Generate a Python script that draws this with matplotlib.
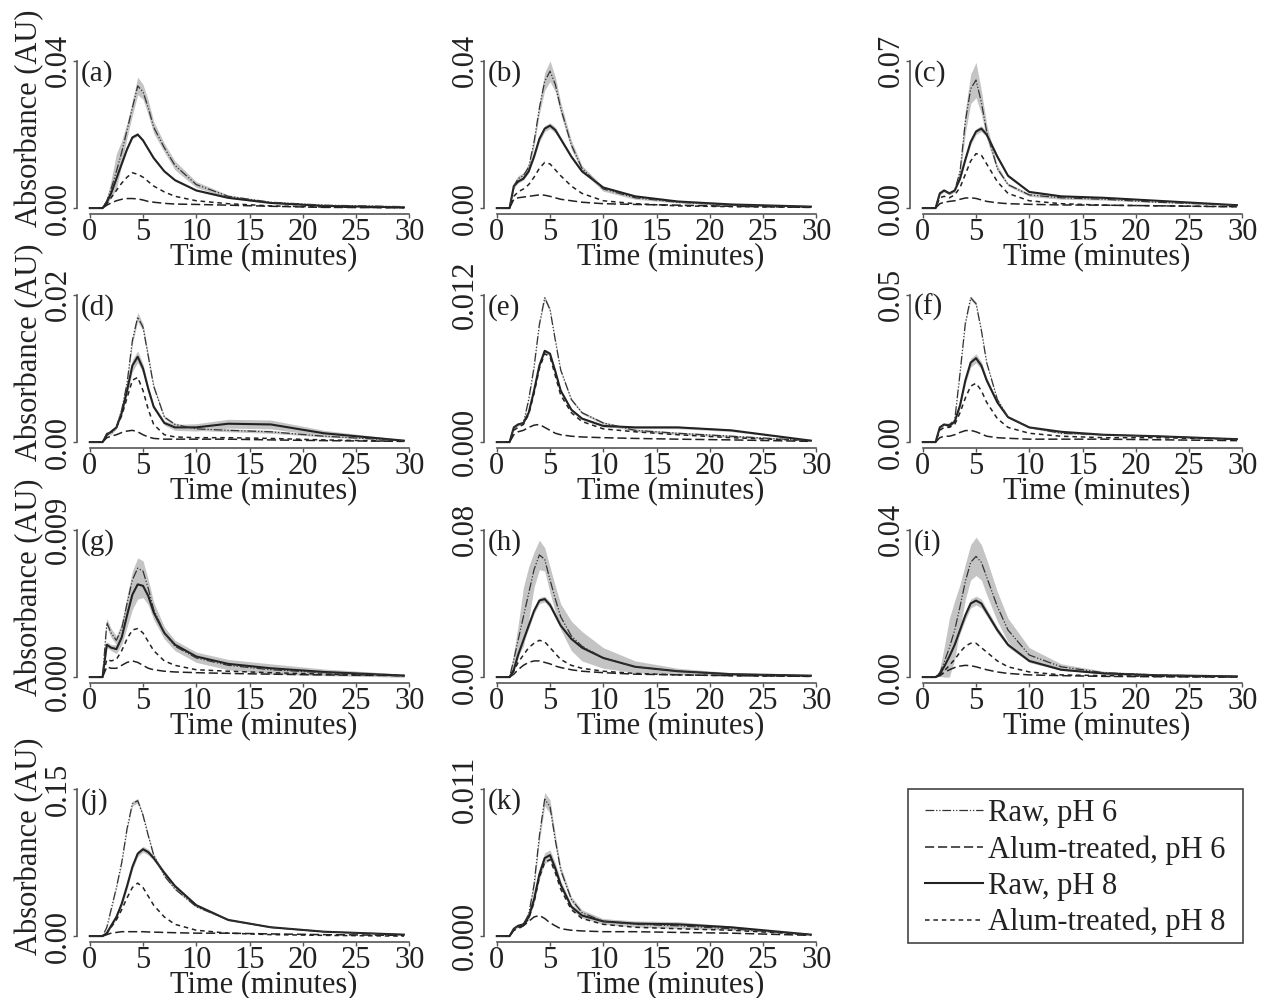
import matplotlib
matplotlib.use("Agg")
import matplotlib.pyplot as plt
import numpy as np
from matplotlib.lines import Line2D
from matplotlib.patches import Rectangle

plt.rcParams['font.family'] = ['Liberation Serif', 'DejaVu Serif']

# time grid (minutes) shared by every series
time = [0, 1.2, 1.6, 2, 2.5, 3, 3.5, 4, 4.5, 5, 5.5, 6, 7, 8, 10, 13, 17, 22, 29.5]

# (a)
a_raw6 = [0, 0, 0.002, 0.0052, 0.01, 0.0152, 0.0212, 0.0272, 0.0332, 0.0316, 0.0272, 0.022, 0.0164, 0.0116, 0.0064, 0.0032, 0.0016, 0.0008, 0.0004]
a_alum6 = [0, 0, 0.0008, 0.0014, 0.002, 0.0024, 0.0026, 0.0026, 0.0025, 0.0022, 0.0018, 0.0016, 0.0013, 0.0011, 0.001, 0.0008, 0.0005, 0.0002, 0.0001]
a_raw8 = [0, 0, 0.0016, 0.004, 0.008, 0.012, 0.016, 0.0192, 0.02, 0.0184, 0.016, 0.0136, 0.01, 0.0076, 0.0048, 0.0028, 0.0014, 0.0006, 0.0002]
a_alum8 = [0, 0, 0.0012, 0.0028, 0.0048, 0.0068, 0.0084, 0.0096, 0.0092, 0.0084, 0.0072, 0.006, 0.0044, 0.0032, 0.002, 0.0012, 0.0006, 0.0003, 0.0001]
a_sd6 = [0, 0, 0.0008, 0.0024, 0.0048, 0.0032, 0.002, 0.002, 0.0024, 0.002, 0.002, 0.0016, 0.0012, 0.0012, 0.0008, 0.0004, 0.0002, 0.0001, 0.0001]
a_sd8 = [0, 0, 0.0002, 0.0003, 0.0004, 0.0004, 0.0004, 0.0004, 0.0004, 0.0004, 0.0004, 0.0004, 0.0003, 0.0003, 0.0002, 0.0002, 0.0001, 0.0001, 0]

# (b)
b_raw6 = [0, 0, 0.006, 0.008, 0.0088, 0.0112, 0.018, 0.0272, 0.0344, 0.0372, 0.0336, 0.0272, 0.0172, 0.0108, 0.0052, 0.0028, 0.0016, 0.0008, 0.0004]
b_alum6 = [0, 0, 0.0024, 0.0028, 0.003, 0.0032, 0.0034, 0.0036, 0.0035, 0.0032, 0.0028, 0.0024, 0.002, 0.0016, 0.0012, 0.001, 0.0008, 0.0005, 0.0002]
b_raw8 = [0, 0, 0.006, 0.0072, 0.008, 0.01, 0.014, 0.0188, 0.0216, 0.0224, 0.0212, 0.0188, 0.014, 0.01, 0.0056, 0.0032, 0.0018, 0.001, 0.0004]
b_alum8 = [0, 0, 0.0032, 0.0044, 0.0052, 0.0064, 0.0084, 0.0108, 0.0124, 0.012, 0.0104, 0.0088, 0.006, 0.004, 0.002, 0.0012, 0.0006, 0.0004, 0.0002]
b_sd6 = [0, 0, 0.0008, 0.0008, 0.0008, 0.0008, 0.0012, 0.0016, 0.0024, 0.0028, 0.002, 0.0016, 0.0012, 0.0008, 0.0006, 0.0004, 0.0002, 0.0001, 0.0001]
b_sd8 = [0, 0, 0.0004, 0.0004, 0.0004, 0.0004, 0.0006, 0.0008, 0.0008, 0.0008, 0.0008, 0.0006, 0.0005, 0.0004, 0.0003, 0.0002, 0.0001, 0.0001, 0]

# (c)
c_raw6 = [0, 0, 0.007, 0.0084, 0.007, 0.0084, 0.0175, 0.0413, 0.0567, 0.0609, 0.0504, 0.0364, 0.0189, 0.0112, 0.0063, 0.0049, 0.0042, 0.0028, 0.0014]
c_alum6 = [0, 0, 0.0021, 0.0028, 0.0032, 0.0035, 0.0042, 0.0048, 0.0049, 0.0046, 0.0039, 0.0032, 0.0025, 0.0021, 0.0018, 0.0015, 0.0014, 0.0011, 0.0006]
c_raw8 = [0, 0, 0.007, 0.0084, 0.007, 0.0084, 0.014, 0.0231, 0.0315, 0.0364, 0.0378, 0.035, 0.0245, 0.0154, 0.0077, 0.0056, 0.0049, 0.0035, 0.0014]
c_alum8 = [0, 0, 0.0049, 0.0056, 0.0049, 0.0063, 0.0098, 0.0161, 0.0224, 0.0259, 0.0252, 0.021, 0.0126, 0.007, 0.0035, 0.0021, 0.0014, 0.0011, 0.0007]
c_sd6 = [0, 0, 0.0007, 0.0007, 0.0007, 0.0007, 0.0021, 0.0056, 0.007, 0.0084, 0.0056, 0.0035, 0.0014, 0.0007, 0.0007, 0.0007, 0.0004, 0.0002, 0.0001]
c_sd8 = [0, 0, 0.0004, 0.0004, 0.0004, 0.0004, 0.0007, 0.001, 0.0014, 0.0014, 0.0014, 0.0012, 0.001, 0.0007, 0.0005, 0.0004, 0.0003, 0.0002, 0.0001]

# (d)
d_raw6 = [0, 0, 0.0012, 0.0012, 0.002, 0.0044, 0.008, 0.0138, 0.017, 0.0156, 0.0116, 0.0076, 0.0034, 0.0024, 0.0018, 0.0016, 0.0014, 0.0008, 0.0002]
d_alum6 = [0, 0, 0.0006, 0.0008, 0.001, 0.0013, 0.0015, 0.0016, 0.0014, 0.001, 0.0007, 0.0005, 0.0004, 0.0004, 0.0004, 0.0004, 0.0003, 0.0002, 0.0001]
d_raw8 = [0, 0, 0.001, 0.0014, 0.002, 0.004, 0.007, 0.0104, 0.0116, 0.01, 0.0072, 0.0048, 0.0026, 0.002, 0.002, 0.0025, 0.0024, 0.0012, 0.0002]
d_alum8 = [0, 0, 0.001, 0.0014, 0.002, 0.0036, 0.006, 0.0084, 0.0088, 0.007, 0.0044, 0.0024, 0.001, 0.0007, 0.0006, 0.0006, 0.0005, 0.0003, 0.0001]
d_sd6 = [0, 0, 0.0002, 0.0002, 0.0002, 0.0003, 0.0004, 0.0005, 0.0006, 0.0005, 0.0004, 0.0003, 0.0002, 0.0002, 0.0002, 0.0002, 0.0002, 0.0001, 0]
d_sd8 = [0, 0, 0.0002, 0.0002, 0.0002, 0.0004, 0.0006, 0.0008, 0.0008, 0.0006, 0.0004, 0.0003, 0.0003, 0.0004, 0.0005, 0.0006, 0.0006, 0.0004, 0.0001]

# (e)
e_raw6 = [0, 0, 0.0012, 0.00144, 0.00156, 0.00348, 0.00612, 0.0096, 0.01176, 0.0108, 0.00828, 0.00588, 0.00348, 0.0024, 0.00156, 0.00096, 0.00072, 0.00048, 0.00012]
e_alum6 = [0, 0, 0.0006, 0.00084, 0.00096, 0.0012, 0.00138, 0.00144, 0.0012, 0.00096, 0.00072, 0.0006, 0.00048, 0.00042, 0.00036, 0.0003, 0.00024, 0.00018, 0.00006]
e_raw8 = [0, 0, 0.0012, 0.00144, 0.00156, 0.0024, 0.0042, 0.00624, 0.00744, 0.0072, 0.00576, 0.0042, 0.00264, 0.00192, 0.00132, 0.0012, 0.0012, 0.00096, 0.00012]
e_alum8 = [0, 0, 0.00096, 0.0012, 0.00144, 0.00228, 0.00396, 0.006, 0.0072, 0.00696, 0.0054, 0.00384, 0.0024, 0.00168, 0.00108, 0.00084, 0.0006, 0.00036, 0.00012]
e_sd6 = [0, 0, 0.0001, 0.0001, 0.0001, 0.0001, 0.00012, 0.00015, 0.00015, 0.00015, 0.00012, 0.0001, 0.0001, 0.0001, 0.0001, 0.0001, 0.0001, 0.0001, 0]
e_sd8 = [0, 0, 0.0001, 0.0001, 0.0001, 0.0001, 0.00012, 0.00015, 0.00015, 0.00015, 0.00012, 0.0001, 0.0001, 0.0001, 0.0001, 0.0001, 0.0001, 0.0001, 0]

# (f)
f_raw6 = [0, 0, 0.005, 0.006, 0.006, 0.0075, 0.0235, 0.0405, 0.049, 0.047, 0.038, 0.027, 0.0145, 0.0085, 0.005, 0.003, 0.0025, 0.002, 0.001]
f_alum6 = [0, 0, 0.0015, 0.002, 0.002, 0.0025, 0.0033, 0.0039, 0.004, 0.0035, 0.0028, 0.002, 0.0015, 0.0013, 0.001, 0.001, 0.001, 0.0008, 0.0005]
f_raw8 = [0, 0, 0.005, 0.006, 0.0055, 0.007, 0.0125, 0.021, 0.027, 0.0285, 0.026, 0.021, 0.0135, 0.0085, 0.005, 0.0035, 0.0025, 0.002, 0.001]
f_alum8 = [0, 0, 0.004, 0.005, 0.005, 0.006, 0.01, 0.015, 0.019, 0.02, 0.0175, 0.0135, 0.008, 0.005, 0.003, 0.002, 0.0015, 0.0015, 0.001]
f_sd6 = [0, 0, 0.0003, 0.0003, 0.0003, 0.0003, 0.0005, 0.0006, 0.0006, 0.0006, 0.0005, 0.0004, 0.0003, 0.0003, 0.0002, 0.0002, 0.0002, 0.0001, 0]
f_sd8 = [0, 0, 0.0003, 0.0003, 0.0003, 0.0004, 0.0008, 0.0012, 0.0015, 0.0015, 0.0013, 0.001, 0.0006, 0.0004, 0.0003, 0.0002, 0.0002, 0.0001, 0]

# (g)
g_raw6 = [0, 0, 0.00333, 0.0027, 0.00225, 0.00297, 0.0045, 0.00594, 0.00666, 0.00648, 0.0054, 0.00414, 0.0027, 0.00189, 0.00117, 0.00072, 0.00045, 0.00027, 0.00009]
g_alum6 = [0, 0, 0.00063, 0.00054, 0.00054, 0.00072, 0.0009, 0.00099, 0.0009, 0.00072, 0.00054, 0.00045, 0.00036, 0.000315, 0.00027, 0.000225, 0.00018, 0.000135, 0.00009]
g_raw8 = [0, 0, 0.00198, 0.0018, 0.00171, 0.00243, 0.00378, 0.00504, 0.00567, 0.00558, 0.00495, 0.00396, 0.0027, 0.00198, 0.00126, 0.00081, 0.00054, 0.000315, 0.00009]
g_alum8 = [0, 0, 0.00108, 0.00099, 0.00108, 0.00162, 0.00234, 0.00288, 0.00297, 0.0027, 0.00216, 0.00162, 0.00099, 0.00072, 0.00045, 0.00036, 0.00027, 0.00018, 0.00009]
g_sd6 = [0, 0, 0.00027, 0.00027, 0.00027, 0.00036, 0.00045, 0.00054, 0.00063, 0.00063, 0.00054, 0.00045, 0.00036, 0.00027, 0.00027, 0.00027, 0.00027, 0.00018, 0.00009]
g_sd8 = [0, 0, 0.00018, 0.00018, 0.00027, 0.00045, 0.00072, 0.0009, 0.0009, 0.00072, 0.00054, 0.00045, 0.00036, 0.00027, 0.00027, 0.00027, 0.00027, 0.00018, 0.00009]

# (h)
h_raw6 = [0, 0, 0.0096, 0.02, 0.0328, 0.0456, 0.0584, 0.0664, 0.064, 0.0528, 0.0424, 0.0328, 0.0224, 0.0168, 0.0104, 0.0056, 0.0032, 0.0016, 0.0008]
h_alum6 = [0, 0, 0.0016, 0.004, 0.0064, 0.008, 0.0088, 0.0088, 0.008, 0.0072, 0.006, 0.0052, 0.004, 0.0032, 0.0024, 0.0016, 0.0012, 0.0008, 0.0004]
h_raw8 = [0, 0, 0.004, 0.012, 0.02, 0.028, 0.036, 0.0416, 0.0424, 0.0392, 0.0336, 0.028, 0.0208, 0.016, 0.0104, 0.0056, 0.0032, 0.0016, 0.0008]
h_alum8 = [0, 0, 0.0032, 0.008, 0.012, 0.016, 0.0184, 0.02, 0.0192, 0.016, 0.0128, 0.0096, 0.0064, 0.0048, 0.0032, 0.002, 0.0012, 0.0008, 0.0004]
h_sd6 = [0, 0, 0.004, 0.008, 0.016, 0.0144, 0.0096, 0.008, 0.0064, 0.007, 0.007, 0.007, 0.008, 0.008, 0.0056, 0.0032, 0.0016, 0.0008, 0.0004]
h_sd8 = [0, 0, 0.0008, 0.0016, 0.0016, 0.0016, 0.0016, 0.0016, 0.0016, 0.0016, 0.0016, 0.0016, 0.0016, 0.0016, 0.0012, 0.0008, 0.0004, 0.0002, 0]

# (i)
i_raw6 = [0, 0, 0.0012, 0.004, 0.008, 0.0128, 0.0192, 0.026, 0.0312, 0.0328, 0.0312, 0.0272, 0.0192, 0.0128, 0.006, 0.0028, 0.0012, 0.0006, 0.0002]
i_alum6 = [0, 0, 0.0004, 0.0012, 0.002, 0.0026, 0.003, 0.0032, 0.0031, 0.0028, 0.0024, 0.002, 0.0014, 0.001, 0.0006, 0.0004, 0.0002, 0.0001, 0]
i_raw8 = [0, 0, 0.0008, 0.0028, 0.0056, 0.0088, 0.0128, 0.0168, 0.02, 0.0208, 0.02, 0.0176, 0.0128, 0.0088, 0.0044, 0.002, 0.001, 0.0005, 0.0002]
i_alum8 = [0, 0, 0.0004, 0.0016, 0.0032, 0.0048, 0.0068, 0.0084, 0.0092, 0.0092, 0.008, 0.0068, 0.0044, 0.0028, 0.0014, 0.0006, 0.0004, 0.0002, 0]
i_sd6 = [0, 0, 0.001, 0.004, 0.008, 0.008, 0.006, 0.0048, 0.0048, 0.0052, 0.0048, 0.0048, 0.004, 0.0032, 0.002, 0.0008, 0.0004, 0.0002, 0]
i_sd8 = [0, 0, 0.0004, 0.0008, 0.0008, 0.0008, 0.001, 0.0012, 0.0012, 0.0012, 0.0012, 0.001, 0.0008, 0.0006, 0.0004, 0.0002, 0.0001, 0, 0]

# (j)
j_raw6 = [0, 0, 0.009, 0.027, 0.0495, 0.075, 0.1095, 0.135, 0.138, 0.123, 0.102, 0.0825, 0.0615, 0.048, 0.03, 0.0165, 0.009, 0.0045, 0.0015]
j_alum6 = [0, 0, 0.0015, 0.003, 0.00375, 0.0045, 0.0045, 0.0045, 0.0045, 0.0045, 0.0042, 0.00405, 0.00375, 0.00345, 0.003, 0.003, 0.00225, 0.0015, 0.00075]
j_raw8 = [0, 0, 0.003, 0.0105, 0.0195, 0.033, 0.051, 0.0705, 0.084, 0.0885, 0.0855, 0.0795, 0.0645, 0.051, 0.0315, 0.0165, 0.009, 0.0045, 0.0015]
j_alum8 = [0, 0, 0.003, 0.009, 0.0165, 0.027, 0.039, 0.0495, 0.054, 0.0495, 0.0405, 0.0315, 0.0195, 0.012, 0.006, 0.003, 0.0015, 0.00075, 0]
j_sd6 = [0, 0, 0.0008, 0.0012, 0.0015, 0.0018, 0.002, 0.00225, 0.00225, 0.002, 0.0018, 0.0015, 0.0012, 0.001, 0.0008, 0.0005, 0.0003, 0.0002, 0]
j_sd8 = [0, 0, 0.001, 0.0015, 0.002, 0.0025, 0.003, 0.003, 0.003, 0.003, 0.003, 0.0025, 0.002, 0.0018, 0.0012, 0.0008, 0.0004, 0.0002, 0]

# (k)
k_raw6 = [0, 0, 0.00055, 0.00077, 0.00088, 0.00165, 0.00385, 0.00748, 0.01023, 0.00968, 0.00715, 0.00495, 0.00275, 0.00176, 0.0011, 0.00088, 0.00077, 0.00055, 0.00011]
k_alum6 = [0, 0, 0.00044, 0.00055, 0.00077, 0.0011, 0.00143, 0.00154, 0.00132, 0.00099, 0.00077, 0.00055, 0.00044, 0.000385, 0.00033, 0.00033, 0.000275, 0.00022, 0.000055]
k_raw8 = [0, 0, 0.00055, 0.00077, 0.00088, 0.00143, 0.00275, 0.00462, 0.00583, 0.00605, 0.00506, 0.00385, 0.0022, 0.00154, 0.0011, 0.000935, 0.00088, 0.00066, 0.00011]
k_alum8 = [0, 0, 0.00044, 0.00066, 0.00077, 0.00132, 0.00253, 0.0044, 0.0055, 0.00572, 0.00473, 0.00352, 0.00198, 0.00132, 0.00088, 0.00066, 0.00055, 0.00044, 0.00011]
k_sd6 = [0, 0, 0.0001, 0.0001, 0.0001, 0.0002, 0.0003, 0.0004, 0.0005, 0.0005, 0.0004, 0.0003, 0.0002, 0.0002, 0.0002, 0.0002, 0.0002, 0.0001, 0]
k_sd8 = [0, 0, 0.0001, 0.0001, 0.0001, 0.0002, 0.0003, 0.0004, 0.0004, 0.0004, 0.0004, 0.0003, 0.0002, 0.0002, 0.0002, 0.0002, 0.0002, 0.0001, 0]

panel_labels = ["(a)", "(b)", "(c)", "(d)", "(e)", "(f)", "(g)", "(h)", "(i)", "(j)", "(k)"]
y_max = [0.04, 0.04, 0.07, 0.02, 0.012, 0.05, 0.009, 0.08, 0.04, 0.15, 0.011]
y_ticklabels = [("0.00", "0.04"), ("0.00", "0.04"), ("0.00", "0.07"),
                ("0.00", "0.02"), ("0.000", "0.012"), ("0.00", "0.05"),
                ("0.000", "0.009"), ("0.00", "0.08"), ("0.00", "0.04"),
                ("0.00", "0.15"), ("0.000", "0.011")]
series = [
    (a_raw6, a_alum6, a_raw8, a_alum8, a_sd6, a_sd8),
    (b_raw6, b_alum6, b_raw8, b_alum8, b_sd6, b_sd8),
    (c_raw6, c_alum6, c_raw8, c_alum8, c_sd6, c_sd8),
    (d_raw6, d_alum6, d_raw8, d_alum8, d_sd6, d_sd8),
    (e_raw6, e_alum6, e_raw8, e_alum8, e_sd6, e_sd8),
    (f_raw6, f_alum6, f_raw8, f_alum8, f_sd6, f_sd8),
    (g_raw6, g_alum6, g_raw8, g_alum8, g_sd6, g_sd8),
    (h_raw6, h_alum6, h_raw8, h_alum8, h_sd6, h_sd8),
    (i_raw6, i_alum6, i_raw8, i_alum8, i_sd6, i_sd8),
    (j_raw6, j_alum6, j_raw8, j_alum8, j_sd6, j_sd8),
    (k_raw6, k_alum6, k_raw8, k_alum8, k_sd6, k_sd8),
]
legend_labels = ["Raw, pH 6", "Alum-treated, pH 6", "Raw, pH 8", "Alum-treated, pH 8"]

# line styles
st_raw6 = dict(color="#333333", lw=0.9, linestyle=(0, (7, 1.5, 1, 1.5, 1, 1.5)))
st_alum6 = dict(color="#222222", lw=1.1, linestyle=(0, (6, 2.5)))
st_raw8 = dict(color="#222222", lw=1.5, linestyle="-")
st_alum8 = dict(color="#222222", lw=1.1, linestyle=(0, (3, 2.5)))
band_color = "#c4c4c4"

W, H = 1266, 998
fig = plt.figure(figsize=(W / 100, H / 100), dpi=100)

col_left = [77, 484, 910]
row_top = [55, 289, 524, 783]
ax_w, ax_h = 345, 159
fs = 22

t = np.array(time)
for n in range(11):
    row, col = divmod(n, 3)
    left, top = col_left[col], row_top[row]
    ax = fig.add_axes([left / W, 1 - (top + ax_h) / H, ax_w / W, ax_h / H])
    ymax = y_max[n]
    raw6, alum6, raw8, alum8, sd6, sd8 = [np.array(s) for s in series[n]]

    ax.fill_between(t, np.maximum(raw6 - sd6, 0), raw6 + sd6, color=band_color, lw=0, zorder=1)
    ax.fill_between(t, np.maximum(raw8 - sd8, 0), raw8 + sd8, color=band_color, lw=0, zorder=1)
    ax.plot(t, alum6, zorder=3, **st_alum6)
    ax.plot(t, alum8, zorder=3, **st_alum8)
    ax.plot(t, raw8, zorder=3, **st_raw8)
    ax.plot(t, raw6, zorder=4, **st_raw6)

    ax.set_xlim(-1.2, 31.2)
    ax.set_ylim(-0.04 * ymax, 1.04 * ymax)
    for s in ["top", "right"]:
        ax.spines[s].set_visible(False)
    for s in ["left", "bottom"]:
        ax.spines[s].set_color("#555555")
        ax.spines[s].set_linewidth(1.2)
    ax.spines["bottom"].set_bounds(0, 30)
    ax.spines["left"].set_bounds(0, ymax)

    ax.set_xticks(range(0, 31, 5))
    ax.set_xticklabels([str(v) for v in range(0, 31, 5)], fontsize=fs)
    ax.set_yticks([0, ymax])
    ax.set_yticklabels(y_ticklabels[n], fontsize=fs, rotation=90, va="center")
    ax.tick_params(axis="both", direction="out", length=3, width=1, color="#555555",
                   labelcolor="#222222")
    ax.tick_params(axis="x", pad=0)
    ax.tick_params(axis="y", pad=0)

    ax.text(0.542, -0.27, "Time (minutes)", transform=ax.transAxes, ha="center",
            va="center", fontsize=fs, color="#222222")
    ax.text(0.01, 0.885, panel_labels[n], transform=ax.transAxes, ha="left",
            va="center", fontsize=fs - 1, color="#222222")
    if col == 0:
        ax.text(-0.137, 0.6, "Absorbance (AU)", transform=ax.transAxes, ha="center",
                va="center", rotation=90, fontsize=fs, color="#222222")

# legend box drawn as its own rectangle, entries placed inside it
fig.patches.append(Rectangle((908 / W, 1 - 943 / H), (1243 - 908) / W, (943 - 789) / H,
                             transform=fig.transFigure, fill=False, edgecolor="#444444",
                             lw=1.2))
handles = [Line2D([], [], **st_raw6), Line2D([], [], **st_alum6),
           Line2D([], [], **st_raw8), Line2D([], [], **st_alum8)]
leg = fig.legend(handles, legend_labels, loc="upper left",
                 bbox_to_anchor=(916 / W, 1 - 790 / H), frameon=False,
                 fontsize=fs, handlelength=1.9, handletextpad=0.16,
                 labelspacing=0.23, borderpad=0.3, borderaxespad=0)
for txt in leg.get_texts():
    txt.set_color("#222222")

fig.savefig("out.png", dpi=100)
